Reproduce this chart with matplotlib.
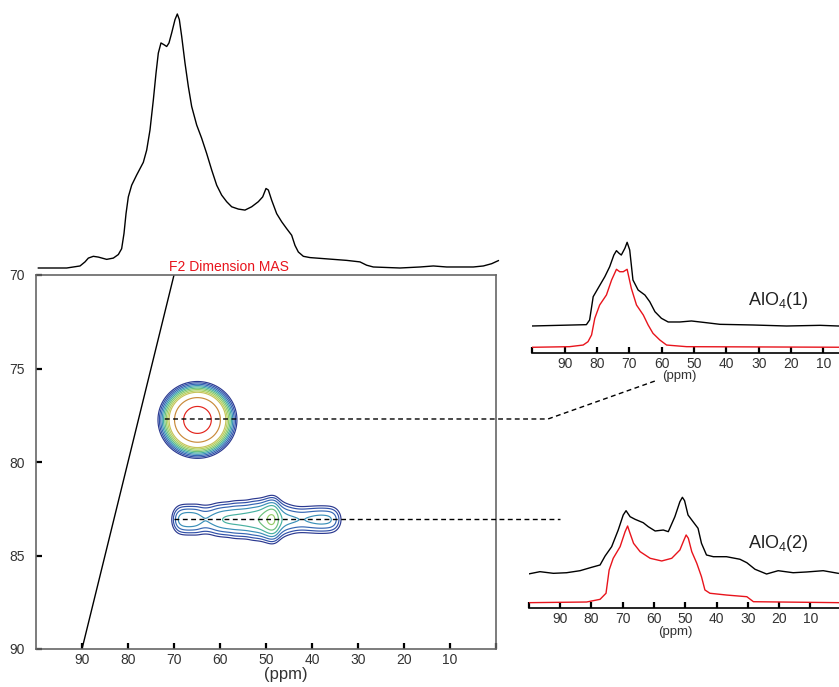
import numpy as np
import matplotlib
matplotlib.use("Agg")
import matplotlib.pyplot as plt
from matplotlib.lines import Line2D

plt.rcParams['font.family'] = ['Liberation Sans', 'DejaVu Sans']
plt.rcParams['mathtext.fontset'] = 'custom'
plt.rcParams['mathtext.rm'] = 'Liberation Sans'

W, H, DPI = 839, 687, 100

# ---------------- F2 (MAS) projection ----------------
proj_ppm = [99.49, 93.33, 90.43, 89.35, 88.62, 87.54, 86.45, 84.64, 83.19, 82.10,
            81.38, 80.87, 80.43, 79.93, 79.20, 78.12, 76.67, 75.94, 75.22, 74.49,
            73.91, 73.41, 72.83, 72.17, 71.59, 71.09, 70.51, 69.78, 69.28, 68.84,
            68.33, 67.61, 66.88, 66.16, 65.07, 63.99, 62.90, 61.81, 60.72, 59.64,
            58.55, 57.46, 56.01, 54.57, 53.12, 51.67, 50.72, 50.00, 49.49, 48.77,
            47.68, 46.59, 45.51, 44.42, 43.70, 42.97, 41.88, 40.43, 37.54, 32.46,
            29.57, 28.12, 26.67, 20.87, 16.52, 13.62, 10.72, 4.93, 2.75, 0.94, -0.51]
proj_int = [0.0, 0.0, 0.8, 2.4, 3.9, 4.6, 4.3, 3.4, 3.9, 5.3,
            7.6, 13.6, 21.4, 28.0, 32.6, 36.6, 41.6, 46.4, 54.3, 66.2,
            76.7, 84.6, 88.6, 87.9, 87.2, 88.6, 92.5, 97.8, 100.0, 97.8,
            91.2, 80.7, 71.4, 63.6, 56.3, 51.1, 45.1, 38.6, 32.6, 28.7,
            26.1, 24.1, 23.2, 22.8, 24.1, 26.1, 28.0, 31.3, 30.7, 26.7,
            21.4, 18.2, 15.5, 12.9, 8.9, 6.3, 4.6, 4.1, 3.7, 3.0,
            2.4, 1.1, 0.4, 0.0, 0.4, 0.8, 0.4, 0.4, 0.8, 1.7, 2.9]

# ---------------- F2 slices: AlO4(1) ----------------
s1_exp_ppm = [100.3, 83.3, 82.3, 81.2, 79.7, 77.6, 76.1, 74.8, 74.0, 73.2, 72.5,
              71.4, 70.7, 69.9, 68.9, 67.3, 65.2, 63.7, 62.1, 60.1, 58.0, 54.4,
              50.8, 46.1, 42.0, 31.7, 21.4, 11.0, 5.4, 0.0]
s1_exp_int = [0.0, 1.6, 7.2, 35.0, 45.0, 58.9, 70.8, 84.8, 90.0, 86.9, 84.8,
              92.8, 100.0, 90.8, 55.0, 43.0, 37.0, 29.0, 17.1, 9.2, 4.8, 4.8,
              6.0, 3.9, 2.0, 1.2, 0.0, 0.8, 0.0, 0.0]
s1_sim_ppm = [100.3, 88.5, 84.3, 82.8, 81.7, 80.7, 79.2, 77.1, 75.5, 74.0, 73.0,
              71.9, 70.7, 69.4, 67.8, 65.7, 64.2, 62.7, 60.6, 58.5, 52.3, 0.0]
s1_sim_int = [0.0, 0.8, 2.9, 7.2, 15.8, 37.2, 54.2, 67.1, 86.3, 100.0, 96.9,
              96.9, 100.0, 75.6, 54.2, 41.4, 28.6, 17.9, 9.4, 2.9, 0.8, 0.0]

# ---------------- F2 slices: AlO4(2) ----------------
s2_exp_ppm = [100.6, 96.4, 92.1, 87.9, 83.6, 79.9, 77.2, 75.6, 73.5, 71.4, 69.8,
              68.9, 67.6, 66.0, 63.4, 61.8, 59.6, 57.0, 55.4, 53.3, 51.7, 50.9,
              50.2, 49.1, 47.5, 45.9, 44.8, 43.2, 41.0, 36.8, 32.5, 30.3, 27.7,
              24.0, 20.3, 15.5, 11.2, 5.9, 1.1]
s2_exp_int = [-2.4, 1.1, -1.1, -0.3, 2.4, 6.9, 10.0, 21.9, 34.3, 56.5, 76.5,
              82.2, 74.2, 70.7, 66.2, 60.9, 55.2, 56.5, 54.3, 74.2, 94.1, 100.0,
              95.5, 76.5, 67.6, 58.8, 38.8, 23.3, 21.0, 21.0, 17.6, 13.0, 4.3,
              -2.0, 2.4, -0.3, 0.7, 2.4, -1.1]
s2_sim_ppm = [100.6, 81.5, 77.2, 75.3, 74.3, 73.0, 70.8, 69.2, 68.4, 67.8, 66.5,
              64.4, 61.2, 57.5, 54.3, 51.7, 50.4, 49.7, 49.0, 47.9, 46.3, 44.8,
              43.7, 42.1, 36.8, 30.3, 28.2, 0.0]
s2_sim_int = [0.0, 0.9, 4.4, 12.3, 42.6, 57.9, 73.0, 92.6, 100.0, 92.6, 77.4,
              66.5, 57.9, 54.4, 57.9, 68.7, 81.7, 88.3, 84.0, 66.5, 51.4, 33.9,
              16.6, 12.3, 10.0, 7.8, 1.3, 0.0]

# ---------------- 2D MQMAS map components ----------------
# AlO4(1): single cross peak (F2, F1, amplitude, F2 width, F1 width)
site1_f2, site1_f1, site1_amp, site1_w2, site1_w1 = 64.9, 77.75, 1.0, 3.3, 0.79
# AlO4(2): ridge along F2 at constant F1; amplitude and F1 width per F2 column
site2_f1 = 83.08
ridge_ppm = [73, 72, 71, 70, 69, 68, 67, 66, 65, 64, 63, 62, 61, 60, 59, 58, 57,
             56, 55, 54, 53, 52, 51, 50, 49, 48, 47, 46, 45, 44, 43, 42, 41, 40,
             39, 38, 37, 36, 35, 34, 33, 32, 31]
ridge_amp = [0, 0, 0.02, 0.047, 0.072, 0.079, 0.081, 0.08, 0.076, 0.068, 0.066,
             0.07, 0.075, 0.08, 0.084, 0.086, 0.087, 0.088, 0.09, 0.092, 0.094,
             0.097, 0.103, 0.118, 0.132, 0.128, 0.085, 0.074, 0.071, 0.069,
             0.067, 0.066, 0.068, 0.07, 0.072, 0.073, 0.072, 0.07, 0.061, 0.04,
             0.02, 0, 0]
ridge_w1 = [0.63, 0.63, 0.63, 0.63, 0.63, 0.63, 0.63, 0.63, 0.66, 0.66, 0.66,
            0.66, 0.70, 0.70, 0.70, 0.70, 0.74, 0.74, 0.74, 0.74, 0.78, 0.78,
            0.78, 0.78, 0.80, 0.80, 0.78, 0.72, 0.67, 0.62, 0.60, 0.60, 0.60,
            0.60, 0.60, 0.60, 0.60, 0.60, 0.60, 0.60, 0.60, 0.60, 0.60]
contour_levels = [0.034, 0.043, 0.054, 0.067, 0.082, 0.100, 0.121, 0.146,
                  0.174, 0.32, 0.66]
contour_colors = ['#2b3990', '#2f4fa8', '#3566b3', '#3a8fb8', '#47b0a0',
                  '#6cc07c', '#95cc68', '#b4cf5e', '#c7c35a', '#c98a3a', '#e3241c']

slice_f1 = [77.7, 83.05]
slice_start_f2 = [72.0, 70.0]

RED = '#e8141c'
TXT = '#333333'

fig = plt.figure(figsize=(W / DPI, H / DPI), dpi=DPI)


def px_axes(left, top, right, bottom):
    return fig.add_axes([left / W, 1 - bottom / H, (right - left) / W, (bottom - top) / H])


def px_text(x, y, s, **kw):
    return fig.text(x / W, 1 - y / H, s, **kw)


# ---------------- main 2D map ----------------
ax = px_axes(36, 275, 496, 649)
f2 = np.linspace(100, 0, 1001)
f1 = np.linspace(70, 90, 501)
X, Y = np.meshgrid(f2, f1)
Z = site1_amp * np.exp(-((X - site1_f2) ** 2) / (2 * site1_w2 ** 2)
                       - ((Y - site1_f1) ** 2) / (2 * site1_w1 ** 2))
s = 0.7
norm = s * np.sqrt(2 * np.pi)
for p, a, w in zip(ridge_ppm, ridge_amp, ridge_w1):
    Z += (a / norm) * np.exp(-((X - p) ** 2) / (2 * s ** 2)
                             - ((Y - site2_f1) ** 2) / (2 * w ** 2))
ax.contour(X, Y, Z, levels=contour_levels, colors=contour_colors, linewidths=0.85)

ax.plot([90, 70], [90, 70], color='black', lw=1.0)
ax.set_xlim(100, 0)
ax.set_ylim(90, 70)
xt = list(range(0, 100, 10))
ax.set_xticks(xt)
ax.set_xticklabels(['' if v == 0 else str(v) for v in xt])
ax.set_yticks([70, 75, 80, 85, 90])
ax.tick_params(axis='both', direction='in', length=4, width=1.6, color='black',
               labelcolor=TXT, labelsize=10)
ax.tick_params(axis='x', pad=3)
ax.tick_params(axis='y', pad=8)
for sp in ax.spines.values():
    sp.set_color('#666666')
    sp.set_linewidth(1.2)
px_text(286, 675, '(ppm)', ha='center', va='center', fontsize=12, color=TXT)
px_text(169, 267, 'F2 Dimension MAS', ha='left', va='center', fontsize=10, color=RED)

# ---------------- top projection ----------------
axp = px_axes(36, 5, 496, 272)
axp.plot(proj_ppm, proj_int, color='black', lw=1.0, clip_on=False)
axp.set_xlim(100, 0)
axp.set_ylim(-1.575, 103.54)
axp.axis('off')


# ---------------- slice panels ----------------
def slice_panel(left, top, right, bottom, exp_ppm, exp_int, sim_ppm, sim_int,
                exp_off, exp_scale, sim_off, sim_scale, label, label_y, xlabel_frac):
    a = px_axes(left, top, right, bottom)
    a.plot(exp_ppm, exp_off + exp_scale * np.asarray(exp_int), color='black', lw=1.0)
    a.plot(sim_ppm, sim_off + sim_scale * np.asarray(sim_int), color=RED, lw=1.0)
    a.set_xlim(100, 0)
    a.set_ylim(0, bottom - top)
    for k in ('left', 'right', 'top'):
        a.spines[k].set_visible(False)
    a.spines['bottom'].set_color('black')
    a.spines['bottom'].set_linewidth(1.2)
    ticks = list(range(10, 101, 10))
    a.set_xticks(ticks)
    a.set_xticklabels(['' if v == 100 else str(v) for v in ticks])
    a.set_yticks([])
    a.tick_params(axis='x', direction='in', length=4, width=1.6, color='black',
                  labelcolor=TXT, labelsize=10, pad=3)
    a.text(xlabel_frac, -0.19, '(ppm)', transform=a.transAxes, ha='center',
           va='center', fontsize=9.5, color=TXT)
    px_text(748, label_y, label, ha='left', va='center', fontsize=13, color='#222222')
    return a


axs1 = slice_panel(532.4, 230, 855.7, 352.7, s1_exp_ppm, s1_exp_int, s1_sim_ppm,
                   s1_sim_int, 26.7, 0.837, 5.4, 0.78, r'AlO$_{4}$(1)', 301, 0.453)
axs2 = slice_panel(528.7, 480, 841.7, 607.7, s2_exp_ppm, s2_exp_int, s2_sim_ppm,
                   s2_sim_int, 35.2, 0.752, 5.0, 0.767, r'AlO$_{4}$(2)', 543, 0.467)

# ---------------- dashed connectors from the 2D map to the slices ----------------
# each route: x of the horizontal run's end, then optional final point (x, y) in pixels
routes = [(548, (655, 381)), (560, None)]
to_fig = fig.transFigure.inverted()
for f1v, f2v, (xend, last) in zip(slice_f1, slice_start_f2, routes):
    sx, sy = ax.transData.transform((f2v, f1v))
    pts = [(sx, sy), (xend, sy)]
    if last is not None:
        pts.append((last[0], H - last[1]))
    fp = to_fig.transform(np.array(pts))
    fig.add_artist(Line2D(fp[:, 0], fp[:, 1], transform=fig.transFigure,
                          color='black', lw=1.0, linestyle=(0, (3.5, 2.5))))

fig.savefig('out.png', dpi=DPI, facecolor='white')
